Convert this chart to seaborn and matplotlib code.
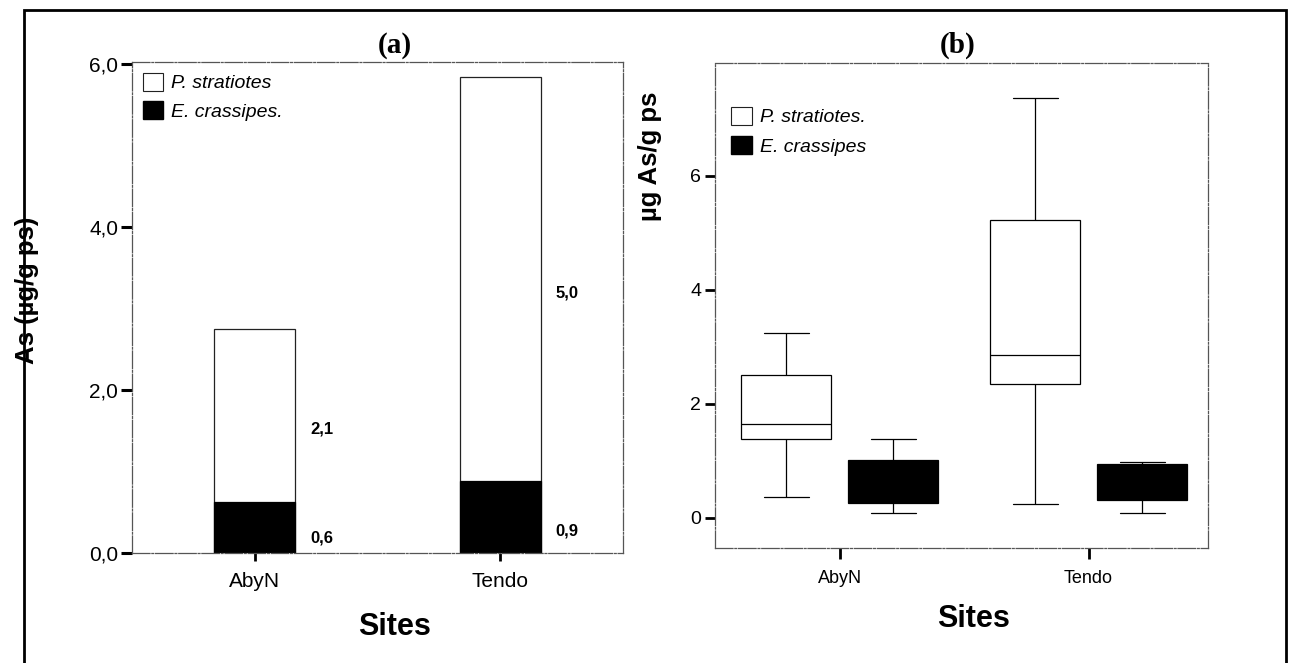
import numpy as np
import pandas as pd
import matplotlib
matplotlib.use("Agg")
import matplotlib.pyplot as plt
import matplotlib.patches as mpatches
import seaborn as sns

# ---- données ----
sites = ["AbyN", "Tendo"]
especes = ["P. stratiotes.", "E. crassipes"]

# (a) concentrations moyennes As (µg/g ps)
as_e_crassipes = [0.62, 0.88]
as_p_stratiotes = [2.13, 4.96]

# (b) résumés des boîtes (min, Q1, médiane, Q3, max)
box_ps_abyn = [0.37, 1.39, 1.65, 2.51, 3.25]
box_ec_abyn = [0.08, 0.26, 0.55, 1.01, 1.39]
box_ps_tendo = [0.24, 2.35, 2.85, 5.23, 7.36]
box_ec_tendo = [0.09, 0.31, 0.60, 0.94, 0.98]

sns.set_theme(style="white")
plt.rcParams["font.family"] = ["Liberation Sans", "DejaVu Sans"]
plt.rcParams.update({"text.color": "black", "axes.labelcolor": "black",
                     "xtick.color": "black", "ytick.color": "black"})

EDGE = "black"
SPINE = "#555555"


def virgule(v, nd=1):
    return f"{v:.{nd}f}".replace(".", ",")


fig = plt.figure(figsize=(12.9, 6.63), dpi=100)
ax_a = fig.add_axes([0.1023, 0.1659, 0.3806, 0.7406])
ax_b = fig.add_axes([0.5543, 0.1735, 0.3822, 0.7315])

# ══════════════ (a) barres empilées ══════════════
df_a = pd.DataFrame({
    "site": sites,
    "ec": as_e_crassipes,
    "ps": as_p_stratiotes,
})
df_a["total"] = df_a["ec"] + df_a["ps"]

bw = 0.33
sns.barplot(data=df_a, x="site", y="total", color="white", saturation=1,
            edgecolor="#222222", linewidth=0.9, width=bw, errorbar=None, ax=ax_a)
sns.barplot(data=df_a, x="site", y="ec", color="black", saturation=1,
            edgecolor="black", linewidth=0.9, width=bw, errorbar=None, ax=ax_a)

for i, row in df_a.iterrows():
    xl = i + bw / 2 + 0.06
    ax_a.text(xl, row["ec"] + row["ps"] / 2 - 0.17, virgule(row["ps"]),
              ha="left", va="center", fontsize=12, fontweight="bold")
    ax_a.text(xl, row["ec"] * 0.3, virgule(row["ec"]),
              ha="left", va="center", fontsize=12, fontweight="bold")

ax_a.set_xlim(-0.5, 1.5)
ax_a.set_ylim(0, 6.02)
ax_a.set_yticks([0, 2, 4, 6])
ax_a.set_yticklabels([virgule(v) for v in [0, 2, 4, 6]])
ax_a.tick_params(axis="y", length=8, width=2.2, color="black", pad=2,
                 labelsize=15, left=True)
ax_a.tick_params(axis="x", length=6, width=2, color="black", pad=8,
                 labelsize=15, bottom=True)
ax_a.set_xlabel("Sites", fontsize=22, fontweight="bold")
ax_a.set_ylabel("As (µg/g ps)", fontsize=18.5, fontweight="bold")
ax_a.xaxis.set_label_coords(0.534, -0.12)
ax_a.yaxis.set_label_coords(-0.19, 0.536)
ax_a.text(0.536, 1.033, "(a)", transform=ax_a.transAxes, ha="center",
          va="center", fontsize=21, fontweight="bold",
          family=["Liberation Serif", "DejaVu Serif"])

leg_a = [mpatches.Patch(facecolor="white", edgecolor="#222222", linewidth=0.8,
                        label="P. stratiotes"),
         mpatches.Patch(facecolor="black", edgecolor="black",
                        label="E. crassipes.")]
ax_a.legend(handles=leg_a, loc="upper left", bbox_to_anchor=(0.022, 0.978),
            frameon=False, borderaxespad=0, borderpad=0, handlelength=1.05,
            handleheight=1.05, handletextpad=0.4, labelspacing=0.45,
            prop={"size": 14, "style": "italic"})

# ══════════════ (b) boîtes à moustaches ══════════════
valeurs = [box_ps_abyn, box_ec_abyn, box_ps_tendo, box_ec_tendo]
groupes = [("AbyN", especes[0]), ("AbyN", especes[1]),
           ("Tendo", especes[0]), ("Tendo", especes[1])]
rows = []
for (s, e), vals in zip(groupes, valeurs):
    for v in vals:
        rows.append({"site": s, "espece": e, "as": v})
df_b = pd.DataFrame(rows)

sns.boxplot(data=df_b, x="site", y="as", hue="espece", hue_order=especes,
            order=sites, palette={especes[0]: "white", especes[1]: "black"},
            saturation=1, width=0.86, gap=0.16, linecolor=EDGE, linewidth=0.9,
            whis=(0, 100), showfliers=False, legend=False, ax=ax_b)

ax_b.set_xlim(-0.5, 1.48)
ax_b.set_ylim(-0.53, 7.98)
ax_b.set_yticks([0, 2, 4, 6])
ax_b.set_yticklabels(["0", "2", "4", "6"])
ax_b.tick_params(axis="y", length=7, width=2, color="black", pad=3,
                 labelsize=14, left=True)
ax_b.tick_params(axis="x", length=8, width=2, color="black", pad=8,
                 labelsize=13, bottom=True)
ax_b.set_xlabel("Sites", fontsize=22, fontweight="bold")
ax_b.set_ylabel("µg As/g ps", fontsize=18.5, fontweight="bold")
ax_b.xaxis.set_label_coords(0.525, -0.115)
ax_b.yaxis.set_label_coords(-0.108, 0.808)
ax_b.text(0.493, 1.037, "(b)", transform=ax_b.transAxes, ha="center",
          va="center", fontsize=21, fontweight="bold",
          family=["Liberation Serif", "DejaVu Serif"])

leg_b = [mpatches.Patch(facecolor="white", edgecolor="#222222", linewidth=0.8,
                        label="P. stratiotes."),
         mpatches.Patch(facecolor="black", edgecolor="black",
                        label="E. crassipes")]
ax_b.legend(handles=leg_b, loc="upper left", bbox_to_anchor=(0.033, 0.91),
            frameon=False, borderaxespad=0, borderpad=0, handlelength=1.05,
            handleheight=1.05, handletextpad=0.4, labelspacing=0.5,
            prop={"size": 14, "style": "italic"})

# cadres des axes (aspect scanné : trait mixte gris)
for ax in (ax_a, ax_b):
    for sp in ax.spines.values():
        sp.set_visible(True)
        sp.set_color(SPINE)
        sp.set_linewidth(0.9)
        sp.set_linestyle((0, (14, 1.5, 1.5, 1.5)))

# cadre extérieur de la figure
fig.add_artist(mpatches.Rectangle((24 / 1290, -0.05), (1286 - 24) / 1290,
                                  1.05 - 10 / 663, transform=fig.transFigure,
                                  fill=False, edgecolor="black", linewidth=2,
                                  clip_on=False))

fig.savefig("out.png", dpi=100)
